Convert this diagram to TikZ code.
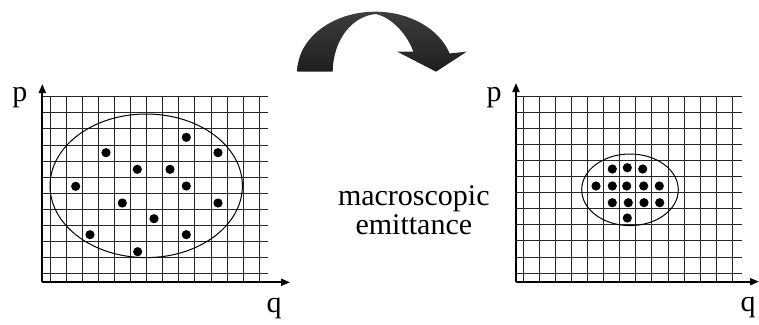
\documentclass[tikz,border=0pt]{standalone}
\usepackage{fontspec}
\setmainfont{Liberation Serif}
\usetikzlibrary{arrows.meta}
\begin{document}
\begin{tikzpicture}[x=1pt,y=-1pt,
  gridline/.style={line width=1pt,black!85},
  axisline/.style={line width=1.8pt,-{Triangle[length=9pt,width=7pt]}},
  bound/.style={line width=1pt},
  dot/.style={fill=black},
  lbl/.style={inner sep=0pt,anchor=base,font=\fontsize{30}{29}\selectfont}]
\useasboundingbox (0,0) rectangle (759,324);
% ---------- left panel ----------
\foreach \k in {0,...,13} \draw[gridline] ({50+16.1*\k},96.7) -- ({50+16.1*\k},282.3);
\foreach \j in {0,...,11} \draw[gridline] (42.3,{96.7+16.1*\j}) -- (268,{96.7+16.1*\j});
\coordinate (o1) at (42.3,282.3);
\coordinate (py1) at (42.3,84);
\coordinate (qx1) at (290,282.3);
\draw[axisline] (o1) -- (py1);
\draw[axisline] (o1) -- (qx1);
\draw[bound] (146.2,185.8) ellipse [x radius=96.2pt, y radius=71.8pt];
\foreach \x/\y in {186.3/137.3,106/152.7,218/152.7,137.3/169.3,170/169.3,75.7/186.3,186.3/186,122.3/203,218/203,154/218.7,90/234.7,186.3/234.7,137.7/251.7}
  \fill[dot] (\x,\y) circle [radius=4.6pt];
\node[lbl] (p1) at (20,101) {p};
\node[lbl] (q1) at (274,312) {q};
% ---------- right panel ----------
\foreach \k in {0,...,13} \draw[gridline] ({523.3+16.08*\k},96) -- ({523.3+16.08*\k},281.7);
\foreach \j in {0,...,11} \draw[gridline] (516,{96+16.1*\j}) -- (741.7,{96+16.1*\j});
\coordinate (o2) at (516,281.7);
\coordinate (py2) at (516,83);
\coordinate (qx2) at (759,281.7);
\draw[axisline] (o2) -- (py2);
\draw[axisline] (o2) -- (qx2);
\draw[bound] (630,189.8) ellipse [x radius=48.3pt, y radius=35.8pt];
\foreach \x/\y in {612.3/169,627.3/167.7,642.7/169,596/186,612.3/186,626.7/186,643.7/186,659.3/186,612.3/202.7,628.3/202.7,644/202.7,659.7/202.7,627.3/218}
  \fill[dot] (\x,\y) circle [radius=4.6pt];
\node[lbl] (p2) at (494,101) {p};
\node[lbl] (q2) at (748,311) {q};
% ---------- middle text ----------
\node[lbl, align=center, anchor=north] (t) at (413.8,185.3) {macroscopic\\emittance};
% ---------- curved arrow ----------
\shade[top color=black!76, bottom color=black!88]
  (297.3,71.7) arc [start angle=180, end angle=17.7, x radius=78pt, y radius=60pt]
  -- (466.7,51.7) -- (436,71.7) -- (397.3,51.7) -- (413.3,51.7)
  .. controls (408,36) and (393,18) .. (376,14)
  .. controls (352,16) and (333,40) .. (332.7,71.7) -- cycle;
\end{tikzpicture}
\end{document}
